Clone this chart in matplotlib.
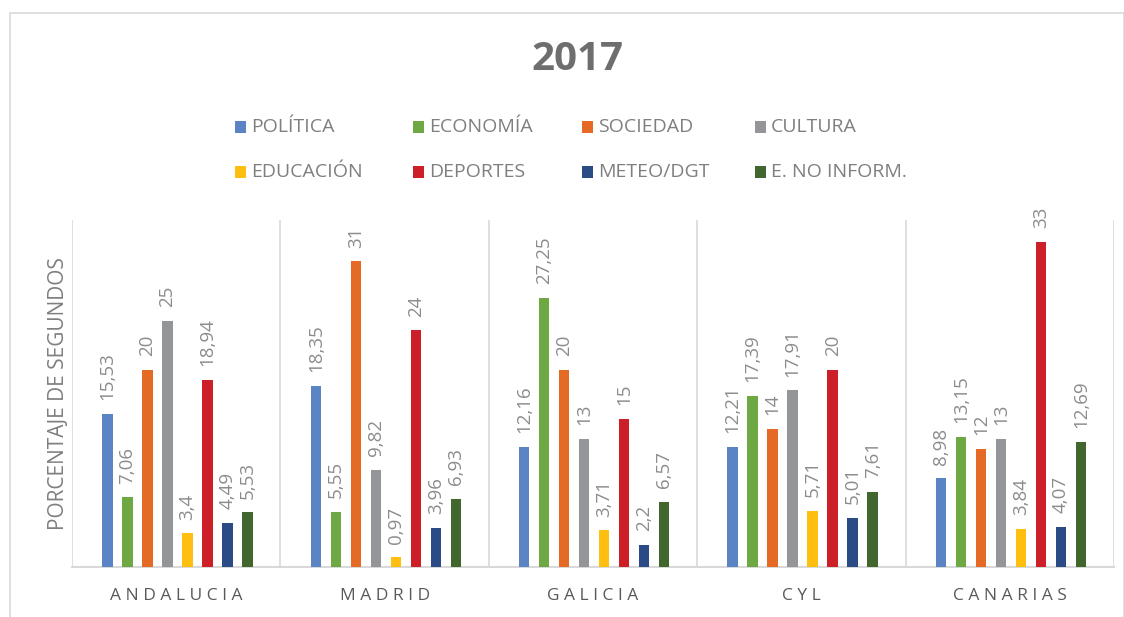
import matplotlib
matplotlib.use("Agg")
import matplotlib.pyplot as plt
from matplotlib.patches import Rectangle
import numpy as np

plt.rcParams['font.family'] = ['Open Sans', 'DejaVu Sans']

regions = ["ANDALUCIA", "MADRID", "GALICIA", "CYL", "CANARIAS"]
series = ["POLÍTICA", "ECONOMÍA", "SOCIEDAD", "CULTURA",
          "EDUCACIÓN", "DEPORTES", "METEO/DGT", "E. NO INFORM."]
colors = ["#5B84C4", "#6DA843", "#E46A25", "#939598",
          "#FEBF10", "#CC1F27", "#2A4B86", "#41672F"]

politica = [15.53, 18.35, 12.16, 12.21, 8.98]
economia = [7.06, 5.55, 27.25, 17.39, 13.15]
sociedad = [20, 31, 20, 14, 12]
cultura = [25, 9.82, 13, 17.91, 13]
educacion = [3.4, 0.97, 3.71, 5.71, 3.84]
deportes = [18.94, 24, 15, 20, 33]
meteo = [4.49, 3.96, 2.2, 5.01, 4.07]
no_inform = [5.53, 6.93, 6.57, 7.61, 12.69]
data = [politica, economia, sociedad, cultura, educacion, deportes, meteo, no_inform]

def fmt(v):
    s = ("%.2f" % v).rstrip("0").rstrip(".")
    return s.replace(".", ",")

W, H = 1124, 617
fig = plt.figure(figsize=(W / 100, H / 100), dpi=100)

# outer chart border
fig.patches.append(Rectangle((10 / W, -0.01), (W - 10) / W, (H - 13) / H + 0.01,
                             transform=fig.transFigure, fill=False,
                             edgecolor="#D9D9D9", linewidth=1.2))

ax = fig.add_axes([72 / W, (H - 567) / H, (1114 - 72) / W, (567 - 220) / H])

x = np.arange(len(regions))
pitch = 0.096
bw = 0.05
n = len(series)
for i, (name, vals, c) in enumerate(zip(series, data, colors)):
    pos = x + (i - (n - 1) / 2) * pitch + 0.006
    ax.bar(pos, vals, width=bw, color=c, label=name, zorder=3)
    for px, v in zip(pos, vals):
        ax.annotate(fmt(v), (px, v), xytext=(0, 10), textcoords="offset points",
                    rotation=90, ha="center", va="bottom", fontsize=13.5,
                    color="#8C8C8C", annotation_clip=False)

ax.set_xlim(-0.5, len(regions) - 0.5)
ax.set_ylim(0, 35.2)
for b in np.arange(-0.5, len(regions), 1.0):
    ax.axvline(b, color="#D9D9D9", linewidth=1.2, zorder=1)
for s in ["top", "right", "left"]:
    ax.spines[s].set_visible(False)
ax.spines["bottom"].set_color("#D9D9D9")
ax.spines["bottom"].set_linewidth(1.5)
ax.set_yticks([])
ax.set_xticks(x)
ax.set_xticklabels([" ".join(r) for r in regions], fontsize=12.5, color="#595959")
ax.tick_params(axis="x", length=0, pad=15)
ax.set_ylabel("PORCENTAJE DE SEGUNDOS", fontsize=15, color="#7F7F7F", labelpad=2)

fig.text(577 / W, 1 - 60 / H, "2017", ha="center", va="center",
         fontsize=29, fontweight="bold", color="#6E6E6E")

# legend, laid out row by row as in the original
col_x = [235, 413, 582, 755]
row_y = [127, 172]
for i, (name, c) in enumerate(zip(series, colors)):
    r, k = divmod(i, 4)
    lx, ly = col_x[k], row_y[r]
    fig.patches.append(Rectangle((lx / W, (H - ly - 6) / H), 11 / W, 12 / H,
                                 transform=fig.transFigure, facecolor=c,
                                 edgecolor="none"))
    fig.text((lx + 16) / W, 1 - ly / H, name, ha="left", va="center",
             fontsize=14, color="#7F7F7F")

fig.savefig("out.png", dpi=100)
